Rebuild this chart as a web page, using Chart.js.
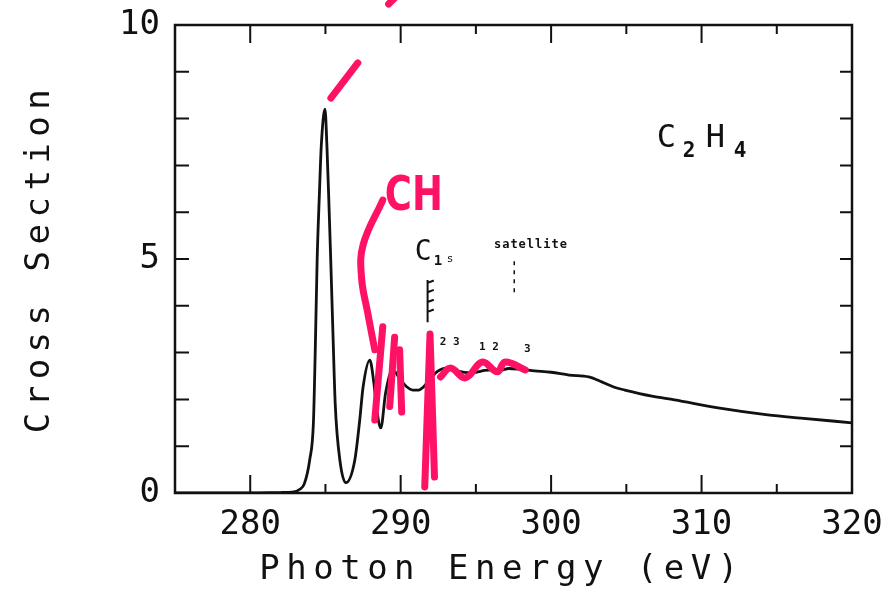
<!DOCTYPE html>
<html>
<head>
<meta charset="utf-8">
<script src="https://cdn.jsdelivr.net/npm/chart.js@4.4.0/dist/chart.umd.min.js"></script>
<style>
  html, body { margin: 0; background: #fff; }
  #wrap { width: 896px; height: 600px; }
</style>
</head>
<body>
<div id="wrap"><canvas id="chart" width="896" height="600"></canvas></div>
<script>
// C2H4 C1s photoabsorption spectrum
var energy = [275, 280, 282, 282.8, 283.3, 283.6, 283.95, 284.2, 284.32, 284.45, 284.6, 284.72, 284.97,
  285.1, 285.22, 285.35, 285.5, 285.65, 285.96, 286.36, 286.95, 287.28, 287.5, 287.95, 288.2, 288.45,
  288.68, 289.0, 289.47, 290.0, 290.4, 290.8, 291.2, 291.5, 291.9, 292.3, 292.6, 293.0, 293.4,
  293.9, 294.5, 295.0, 295.6, 296.1, 296.6, 297.2, 298, 298.9, 300, 301.2, 302.5, 303.4, 304.2,
  304.9, 306.7, 308.2, 311.1, 314.4, 316.6, 320];
var crossSection = [0, 0, 0.01, 0.02, 0.08, 0.2, 0.7, 1.5, 3.0, 5.0, 6.4, 7.4, 8.2,
  7.4, 6.3, 5.0, 3.4, 1.9, 0.7, 0.22, 0.7, 1.56, 2.26, 2.84, 2.4, 1.7,
  1.39, 2.14, 2.63, 2.41, 2.27, 2.2, 2.2, 2.26, 2.41, 2.56, 2.63, 2.67, 2.66,
  2.6, 2.57, 2.58, 2.62, 2.63, 2.62, 2.66, 2.64, 2.61, 2.58, 2.52, 2.48, 2.37, 2.26,
  2.2, 2.07, 1.99, 1.82, 1.67, 1.6, 1.5];

var xTickLabels = [280, 290, 300, 310, 320];
var xMinorTicks = [275, 285, 295, 305, 315];
var yTickLabels = [0, 5, 10];
var yMinorTicks = [1, 2, 3, 4, 6, 7, 8, 9];

// pink hand-drawn marks, in (eV, cross section)
var markTop = [[289.2, 10.45], [289.8, 10.64]];
var markPeak = [[285.36, 8.44], [287.15, 9.19]];
var markBracket = [[288.81, 6.26], [287.5, 5.3], [287.4, 4.6], [287.81, 3.85], [288.28, 3.06]];
var markStrokeA = [[288.81, 3.55], [288.28, 1.56]];
var markStrokeB = [[289.6, 3.33], [289.27, 1.85]];
var markStrokeC = [[289.93, 3.06], [290.07, 1.73]];
var markStrokeD = [[291.6, 0.13], [291.95, 3.4], [292.25, 0.34]];
var markWave = [[292.65, 2.48], [293.31, 2.67], [294.3, 2.46], [295.43, 2.8], [296.42, 2.59],
  [296.95, 2.8], [298.28, 2.63]];

var PINK = 'rgb(255, 18, 102)';
var FONT = '"DejaVu Sans Mono", monospace';

function pts(list) {
  return list.map(function(p) { return { x: p[0], y: p[1] }; });
}

function pinkSet(list, tension) {
  return {
    data: pts(list),
    borderColor: PINK,
    borderWidth: 7,
    borderCapStyle: 'round',
    borderJoinStyle: 'round',
    pointRadius: 0,
    tension: tension || 0,
    clip: false,
    order: 0
  };
}

var frame = {
  id: 'frame',
  afterDraw: function(chart) {
    var ctx = chart.ctx, a = chart.chartArea;
    var xs = chart.scales.x, ys = chart.scales.y;
    ctx.save();
    ctx.strokeStyle = '#111';
    ctx.lineWidth = 2.5;
    ctx.strokeRect(a.left, a.top, a.right - a.left, a.bottom - a.top);

    ctx.lineWidth = 2;
    ctx.beginPath();
    function xTick(v, len) {
      var px = xs.getPixelForValue(v);
      ctx.moveTo(px, a.bottom); ctx.lineTo(px, a.bottom - len);
      ctx.moveTo(px, a.top); ctx.lineTo(px, a.top + len);
    }
    xTickLabels.forEach(function(v) { xTick(v, 18); });
    xMinorTicks.forEach(function(v) { xTick(v, 9); });
    yTickLabels.concat(yMinorTicks).forEach(function(v) {
      var py = ys.getPixelForValue(v);
      ctx.moveTo(a.left, py); ctx.lineTo(a.left + 14, py);
      ctx.moveTo(a.right, py); ctx.lineTo(a.right - 12, py);
    });
    ctx.stroke();

    // axis titles
    ctx.fillStyle = '#111';
    ctx.letterSpacing = '6.5px';
    ctx.font = '34px ' + FONT;
    ctx.textAlign = 'center';
    ctx.textBaseline = 'alphabetic';
    ctx.fillText('Photon Energy (eV)', 502, 579);
    ctx.save();
    ctx.translate(49, 262);
    ctx.rotate(-Math.PI / 2);
    ctx.fillText('Cross Section', 4, 0);
    ctx.restore();
    ctx.letterSpacing = '0px';

    // labels inside the plot
    function at(x, y) { return [xs.getPixelForValue(x), ys.getPixelForValue(y)]; }
    ctx.textAlign = 'left';
    var p = at(307.15, 7.39);
    ctx.font = '32px ' + FONT;
    ctx.fillText('C', p[0] - 2, p[1]);
    ctx.fillText('H', p[0] + 47, p[1]);
    ctx.font = 'bold 21px ' + FONT;
    ctx.fillText('2', p[0] + 24, p[1] + 10);
    ctx.fillText('4', p[0] + 75, p[1] + 10);

    p = at(290.93, 4.98);
    ctx.font = '28px ' + FONT;
    ctx.fillText('C', p[0], p[1]);
    ctx.font = 'bold 14px ' + FONT;
    ctx.fillText('1', p[0] + 19, p[1] + 5);
    ctx.font = '11px ' + FONT;
    ctx.fillText('s', p[0] + 32, p[1] + 2);

    p = at(296.2, 5.24);
    ctx.font = 'bold 12px ' + FONT;
    ctx.letterSpacing = '1px';
    ctx.fillText('satellite', p[0], p[1]);
    ctx.letterSpacing = '0px';

    ctx.font = 'bold 11px ' + FONT;
    p = at(292.6, 3.16); ctx.fillText('2 3', p[0], p[1]);
    p = at(295.2, 3.06); ctx.fillText('1 2', p[0], p[1]);
    p = at(298.2, 3.01); ctx.fillText('3', p[0], p[1]);

    // threshold markers
    ctx.lineWidth = 2;
    ctx.beginPath();
    var top = at(291.79, 4.55), bot = at(291.79, 3.65);
    ctx.moveTo(top[0], top[1]); ctx.lineTo(bot[0], bot[1]);
    [4.49, 4.29, 4.08, 3.87].forEach(function(v) {
      var q = at(291.79, v), r = at(292.2, v + 0.05);
      ctx.moveTo(q[0], q[1]); ctx.lineTo(r[0], r[1]);
    });
    ctx.stroke();
    ctx.lineWidth = 1.5;
    ctx.setLineDash([4, 5]);
    ctx.beginPath();
    var s1 = at(297.55, 4.95), s2 = at(297.55, 4.2);
    ctx.moveTo(s1[0], s1[1]); ctx.lineTo(s2[0], s2[1]);
    ctx.stroke();
    ctx.setLineDash([]);

    // handwritten "CH"
    p = at(288.95, 6.04);
    ctx.fillStyle = PINK;
    ctx.font = 'bold 48px "DejaVu Sans"';
    ctx.fillText('CH', p[0], p[1], 58);
    ctx.restore();
  }
};

new Chart(document.getElementById('chart'), {
  type: 'line',
  data: {
    datasets: [
      {
        data: energy.map(function(e, i) { return { x: e, y: crossSection[i] }; }),
        borderColor: '#111',
        borderWidth: 2.8,
        pointRadius: 0,
        cubicInterpolationMode: 'monotone',
        order: 10
      },
      pinkSet(markTop),
      pinkSet(markPeak),
      pinkSet(markBracket, 0.4),
      pinkSet(markStrokeA),
      pinkSet(markStrokeB),
      pinkSet(markStrokeC),
      pinkSet(markStrokeD),
      pinkSet(markWave, 0.4)
    ]
  },
  options: {
    responsive: false,
    animation: false,
    layout: { padding: { top: 25, right: 44, left: 0, bottom: 0 } },
    plugins: { legend: { display: false }, tooltip: { enabled: false } },
    scales: {
      x: {
        type: 'linear', min: 275, max: 320,
        afterBuildTicks: function(s) { s.ticks = xTickLabels.map(function(v) { return { value: v }; }); },
        afterFit: function(s) { s.height = 107; s.paddingLeft = 0; s.paddingRight = 0; },
        grid: { display: false, drawTicks: false },
        border: { display: false },
        ticks: { color: '#111', padding: 12, maxRotation: 0, font: { family: FONT, size: 34 } }
      },
      y: {
        type: 'linear', min: 0, max: 10,
        afterBuildTicks: function(s) { s.ticks = yTickLabels.map(function(v) { return { value: v }; }); },
        afterFit: function(s) { s.width = 175; s.paddingTop = 0; s.paddingBottom = 0; },
        grid: { display: false, drawTicks: false },
        border: { display: false },
        ticks: { color: '#111', padding: 15, font: { family: FONT, size: 34 } }
      }
    }
  },
  plugins: [frame]
});
</script>
</body>
</html>
